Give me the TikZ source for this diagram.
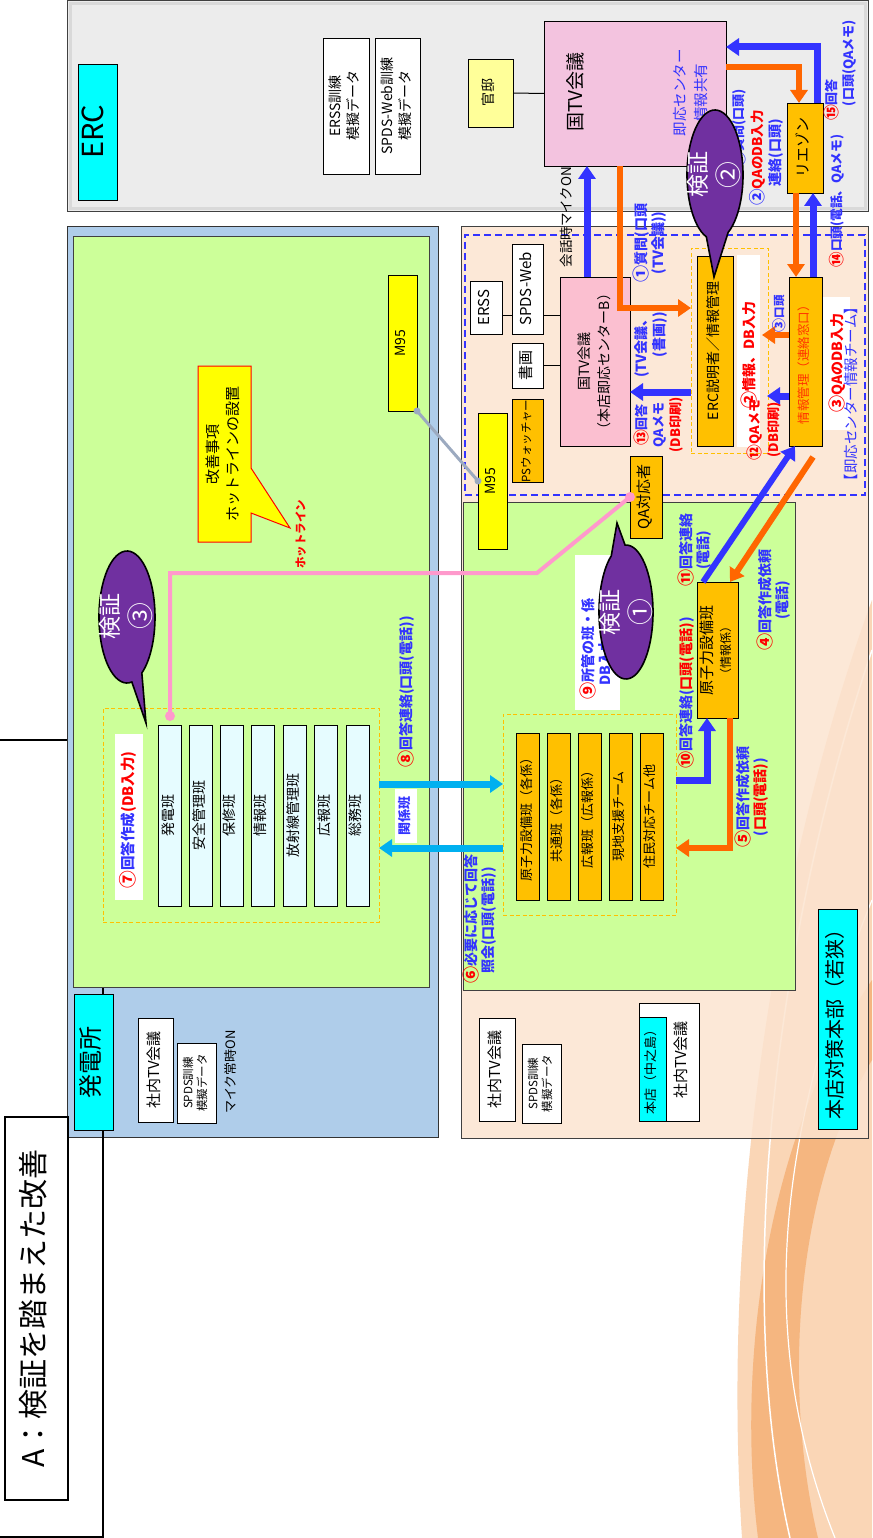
\documentclass[tikz,border=0pt]{standalone}
\usepackage{fontspec}
\setmainfont{Noto Sans CJK JP}
\usepackage{graphicx}
\usetikzlibrary{arrows.meta,calc}
\definecolor{bluL}{HTML}{3333FF}
\definecolor{oraA}{HTML}{FF6600}
\definecolor{boxO}{HTML}{FFC000}
\definecolor{yelB}{HTML}{FFFF00}
\definecolor{yelL}{HTML}{FFFF99}
\definecolor{pinkE}{HTML}{F3C3DF}
\definecolor{pinkB}{HTML}{FBBFD0}
\definecolor{greenA}{HTML}{CCFF99}
\definecolor{blueP}{HTML}{AFCDEA}
\definecolor{peach}{HTML}{FCE4D0}
\definecolor{cyanL}{HTML}{E6FCFF}
\definecolor{cyanB}{HTML}{00FFFF}
\definecolor{skyA}{HTML}{00B0F0}
\definecolor{purp}{HTML}{7030A0}
\definecolor{grayE}{HTML}{ECECEC}
\definecolor{grayLine}{HTML}{9CAAC0}
\definecolor{pinkLine}{HTML}{FF99CC}
\definecolor{redO}{HTML}{FF3300}
\definecolor{decoA}{HTML}{FAD6B6}
\definecolor{decoB}{HTML}{F5B680}
\newcommand{\vtxt}[2][c]{\rotatebox{90}{\begin{tabular}{@{}#1@{}}#2\end{tabular}}}
\newcommand{\fsz}[2]{\fontsize{#1}{#2}\selectfont}
\newcommand{\rd}[1]{\textcolor{red}{#1}}
\newcommand{\bl}[1]{\textcolor{bluL}{#1}}
\newcommand{\cn}[1]{\raisebox{-0.08em}{\scalebox{1.22}{#1}}}
\begin{document}
\begin{tikzpicture}[x=1pt,y=-1pt,
 bx/.style={draw=black, line width=0.8pt, inner sep=0pt, outer sep=0pt},
 lb/.style={inner sep=0pt, outer sep=0pt, font=\fsz{14}{17}\bfseries},
 area/.style={inner sep=0pt, outer sep=0pt},
 grp/.style={draw=boxO, line width=0.9pt, dash pattern=on 4pt off 2.5pt, inner sep=0pt, outer sep=0pt},
 barrow/.style={draw=bluL, line width=7pt, -{Triangle[length=13pt,width=17pt]}},
 oarrow/.style={draw=oraA, line width=6.5pt, -{Triangle[length=13pt,width=17pt]}},
 carrow/.style={draw=skyA, line width=7pt, -{Triangle[length=13pt,width=17pt]}},
 conn/.style={draw=black, line width=1pt},
 vbub/.style={fill=purp, draw=black, line width=1.6pt},
 vtext/.style={text=white, inner sep=0pt, font=\fsz{23}{29}},
]
\useasboundingbox (0,0) rectangle (872,1538);
\fill[white] (0,0) rectangle (872,1538);
% background decoration
\fill[decoA] (872,600) .. controls (780,850) and (720,1200) .. (742,1538) -- (872,1538) -- cycle;
\fill[decoB] (872,980) .. controls (770,1130) and (735,1350) .. (758,1538) -- (818,1538) .. controls (785,1400) and (790,1200) .. (872,1060) -- cycle;
\draw[white, line width=1.5pt] (872,650) .. controls (770,950) and (735,1300) .. (790,1538);
\draw[white, line width=1.2pt] (872,900) .. controls (770,1150) and (760,1350) .. (835,1538);
% frame
\draw[line width=1.2pt] (0,740) -- (68,740);
% areas
\node[area, draw=black!75, fill=grayE, line width=1pt, minimum width=801pt, minimum height=211pt] (ercArea) at (467.5,106.5) {};
\draw[black!15, line width=3pt] (70,4) rectangle (865,209);
\node[area, draw=black!75, fill=peach, fill opacity=0.85, line width=1pt, minimum width=407pt, minimum height=911pt] (hqArea) at (664.5,682.5) {};
\node[area, draw=black!80, fill=blueP, line width=1pt, minimum width=371pt, minimum height=910pt] (plArea) at (252.5,682) {};
\draw[line width=1.5pt] (103,740) -- (103,1537) -- (0,1537);
\node[area, draw=black!75, fill=greenA, line width=1pt, minimum width=356pt, minimum height=750pt] (plGreen) at (251,612) {};
\node[area, draw=black!75, fill=greenA, line width=1pt, minimum width=332pt, minimum height=488pt] (hqGreen) at (629,746) {};
\node[area, draw=bluL, line width=1.8pt, dash pattern=on 7pt off 4pt, minimum width=400pt, minimum height=260pt] (teamgrp) at (665,365) {};
\node[grp, minimum width=77pt, minimum height=205pt] (ercgrp) at (729.5,350.5) {};
\node[grp, minimum width=173pt, minimum height=201pt] (hqgrp) at (589.5,814.5) {};
\node[grp, minimum width=276pt, minimum height=214pt] (plgrp) at (241,815) {};
% ERC boxes
\node[bx, fill=cyanB, minimum width=39pt, minimum height=136pt, font=\fsz{29}{30}] (ercLabel) at (97.5,132) {\vtxt{ERC}};
\node[bx, fill=white, minimum width=46pt, minimum height=136pt, font=\fsz{14}{18}] (erssT) at (346,106) {\vtxt{ERSS訓練\\模擬データ}};
\node[bx, fill=white, minimum width=45pt, minimum height=136pt, font=\fsz{14}{18}] (spdsT) at (397.5,106) {\vtxt{SPDS-Web訓練\\模擬データ}};
\node[bx, fill=yelL, minimum width=45pt, minimum height=68pt, font=\fsz{14}{17}] (kantei) at (490.5,93) {\vtxt{官邸}};
\node[bx, fill=pinkE, minimum width=182pt, minimum height=145pt] (tvE) at (635,93.5) {};
\node[inner sep=0pt, font=\fsz{19}{22}] (tvEt) at (578,92) {\vtxt{国TV会議}};
\node[inner sep=0pt, font=\fsz{14.5}{21}, text=bluL] (share) at (692,93) {\vtxt[l]{即応センター\\の情報共有}};
\node[bx, fill=boxO, minimum width=36pt, minimum height=90pt, font=\fsz{15}{18}] (liaison) at (805,148) {\vtxt{リエゾン}};
% HQ boxes
\node[bx, fill=pinkB, minimum width=70pt, minimum height=169pt, font=\fsz{14}{20}] (tvB) at (595,361.5) {\vtxt{国TV会議\\（本店即応センターB）}};
\node[bx, fill=white, minimum width=32pt, minimum height=53pt, font=\fsz{15}{18}] (erssB) at (486,307.5) {\vtxt{ERSS}};
\node[bx, fill=white, minimum width=31pt, minimum height=90pt, font=\fsz{15}{18}] (spdsB) at (527.5,289) {\vtxt{SPDS-Web}};
\node[bx, fill=white, minimum width=31pt, minimum height=45pt, font=\fsz{15}{18}] (shoga) at (527.5,365.5) {\vtxt{書画}};
\node[bx, fill=boxO, minimum width=31pt, minimum height=82pt, font=\fsz{11.5}{14}] (psw) at (527.5,441) {\vtxt{PSウォッチャー}};
\node[bx, fill=yelB, minimum width=29pt, minimum height=136pt, font=\fsz{14}{16}] (m95h) at (492.5,481) {\vtxt{M95}};
\node[bx, fill=boxO, minimum width=32pt, minimum height=82pt, font=\fsz{15}{18}] (qa) at (646,497) {\vtxt{QA対応者}};
\node[bx, fill=boxO, minimum width=36pt, minimum height=190pt, font=\fsz{14}{17}] (ercx) at (715,351) {\vtxt{ERC説明者／情報管理}};
\node[bx, fill=boxO, minimum width=33pt, minimum height=169pt, font=\fsz{12.5}{15}, text=redO] (jkan) at (805.5,361.5) {\vtxt{情報管理（連絡窓口）}};
\node[bx, fill=boxO, minimum width=41pt, minimum height=136pt, font=\fsz{15}{18}] (gen) at (717.5,650) {\vtxt{原子力設備班\\{\fsz{12}{14}（情報係）}}};
\node[bx, fill=boxO, minimum width=23pt, minimum height=167pt, font=\fsz{13}{15}] (hq1) at (528,816.5) {\vtxt{原子力設備班（各係）}};
\node[bx, fill=boxO, minimum width=23pt, minimum height=167pt, font=\fsz{13}{15}] (hq2) at (558.5,816.5) {\vtxt{共通班（各係）}};
\node[bx, fill=boxO, minimum width=23pt, minimum height=167pt, font=\fsz{13}{15}] (hq3) at (589.5,816.5) {\vtxt{広報班（広報係）}};
\node[bx, fill=boxO, minimum width=23pt, minimum height=167pt, font=\fsz{13}{15}] (hq4) at (620.5,816.5) {\vtxt{現地支援チーム}};
\node[bx, fill=boxO, minimum width=23pt, minimum height=167pt, font=\fsz{13}{15}] (hq5) at (651.5,816.5) {\vtxt{住民対応チーム他}};
% plant boxes
\node[bx, fill=yelB, minimum width=29pt, minimum height=136pt, font=\fsz{14}{16}] (m95p) at (402.5,343) {\vtxt{M95}};
\node[bx, fill=cyanL, minimum width=23pt, minimum height=181pt, font=\fsz{14}{16}] (p1) at (170,815.5) {\vtxt{発電班}};
\node[bx, fill=cyanL, minimum width=23pt, minimum height=181pt, font=\fsz{14}{16}] (p2) at (201,815.5) {\vtxt{安全管理班}};
\node[bx, fill=cyanL, minimum width=23pt, minimum height=181pt, font=\fsz{14}{16}] (p3) at (231.5,815.5) {\vtxt{保修班}};
\node[bx, fill=cyanL, minimum width=23pt, minimum height=181pt, font=\fsz{14}{16}] (p4) at (262.5,815.5) {\vtxt{情報班}};
\node[bx, fill=cyanL, minimum width=23pt, minimum height=181pt, font=\fsz{14}{16}] (p5) at (294.5,815.5) {\vtxt{放射線管理班}};
\node[bx, fill=cyanL, minimum width=23pt, minimum height=181pt, font=\fsz{14}{16}] (p6) at (326,815.5) {\vtxt{広報班}};
\node[bx, fill=cyanL, minimum width=23pt, minimum height=181pt, font=\fsz{14}{16}] (p7) at (357.5,815.5) {\vtxt{総務班}};
\filldraw[fill=yelB, draw=red, line width=1pt] (198,366) -- (251,366) -- (251,468) -- (290,528) -- (251,513) -- (251,542) -- (198,542) -- cycle;
\node[inner sep=0pt, font=\fsz{15}{20}] (kaizen) at (224.5,454) {\vtxt{改善事項\\ホットラインの設置}};
\node[inner sep=0pt, font=\fsz{11.5}{14}\bfseries, text=red] (hotl) at (302,534) {\vtxt{ホットライン}};
\node[bx, fill=cyanB, minimum width=39pt, minimum height=136pt, font=\fsz{24}{26}] (hatsu) at (93.5,1062) {\vtxt{発電所}};
\node[bx, fill=white, minimum width=35pt, minimum height=104pt, font=\fsz{15}{18}] (shanaiP) at (155.5,1070) {\vtxt{社内TV会議}};
\node[bx, fill=white, minimum width=39pt, minimum height=80pt, font=\fsz{11.5}{14}] (spdsP) at (196.5,1083) {\vtxt{SPDS訓練\\模擬データ}};
\node[inner sep=0pt, font=\fsz{13}{16}] (micon) at (232,1072) {\vtxt{マイク常時ON}};
\node[bx, fill=white, minimum width=36pt, minimum height=103pt, font=\fsz{15}{18}] (shanaiH) at (497,1069.5) {\vtxt{社内TV会議}};
\node[bx, fill=white, minimum width=39pt, minimum height=79pt, font=\fsz{11.5}{14}] (spdsH) at (541.5,1083.5) {\vtxt{SPDS訓練\\模擬データ}};
\node[bx, fill=white, minimum width=60pt, minimum height=118pt] (tvNaka) at (669,1062) {};
\node[inner sep=0pt, font=\fsz{15}{18}] (tvNakaT) at (683,1060) {\vtxt{社内TV会議}};
\node[bx, fill=cyanB, minimum width=27pt, minimum height=104pt, font=\fsz{13}{15}] (honten) at (652.5,1069) {\vtxt{本店（中之島）}};
\node[bx, fill=cyanB, minimum width=39pt, minimum height=220pt, font=\fsz{20}{23}] (taisaku) at (837.5,1019) {\vtxt{本店対策本部（若狭）}};
\node[bx, line width=1.5pt, fill=white, minimum width=63pt, minimum height=383pt, font=\fsz{30}{34}] (title) at (36.5,1308.5) {\vtxt{A：検証を踏まえた改善}};
% thin connectors
\draw[conn] (kantei.east) -- (tvE.west);
\draw[conn] ([yshift=-7.5pt]erssB.east) -- ([yshift=-26pt]spdsB.west);
\draw[conn] ([yshift=-26pt]spdsB.east) -- ([yshift=46.5pt]tvB.west);
\draw[conn] (shoga.east) -- ([yshift=-4pt]tvB.west);
\draw[grayLine, line width=3pt] (m95p.south east) -- (m95h.west);
\fill[grayLine] (m95p.south east) circle (3.5pt);
\fill[grayLine] (m95h.west) circle (3.5pt);
\coordinate (hotEnd) at ([yshift=9pt]p1.north);
\draw[pinkLine, line width=4pt] (qa.west) -- (537,573) -| (hotEnd);
\fill[pinkLine] (qa.west) circle (5pt);
\fill[pinkLine] (hotEnd) circle (5pt);
% arrows
\draw[barrow] ([xshift=12pt]liaison.north) |- ([yshift=46.5pt]tvE.east);
\draw[oarrow] ([yshift=26.5pt]tvE.east) -| ([xshift=-6pt]liaison.north);
\draw[oarrow] ([xshift=-9pt]liaison.south) -- ([xshift=-9.5pt]jkan.north);
\draw[barrow] ([xshift=7.5pt]jkan.north) -- ([xshift=8pt]liaison.south);
\draw[barrow] ([xshift=-8pt]tvB.north) -- ([xshift=-48pt]tvE.south);
\draw[oarrow] ([xshift=-15pt]tvE.south) |- ([yshift=42.5pt]ercgrp.west);
\draw[oarrow] ([yshift=26.5pt]jkan.west) -- ([shift={(-6pt,15.5pt)}]ercgrp.east);
\draw[barrow] ([yshift=-34.5pt]jkan.west) -- ([shift={(-1pt,-45.5pt)}]ercgrp.east);
\draw[barrow] ([yshift=-41.5pt]ercgrp.west) -- ([yshift=-30.5pt]tvB.east);
\draw[barrow, line width=6pt] ([xshift=-14.5pt]gen.north) -- ([xshift=-10.5pt]jkan.south);
\draw[oarrow, line width=6pt] ([shift={(7.5pt,-11pt)}]jkan.south) -- ([xshift=12.5pt]gen.north);
\draw[barrow] ([yshift=34.5pt]hqgrp.east) -| ([xshift=-10.5pt]gen.south);
\draw[oarrow] ([xshift=12.5pt]gen.south) |- ([yshift=-33.5pt]hqgrp.east);
\draw[carrow] ([yshift=31pt]plgrp.east) -- ([yshift=30.5pt]hqgrp.west);
\draw[carrow] ([yshift=-33.5pt]hqgrp.west) -- ([yshift=-33pt]plgrp.east);
% white label backgrounds
\fill[white] (737,255) rectangle (760,447);
\fill[white] (823,297) rectangle (850,430);
\fill[white] (575,555) rectangle (620,710);
\fill[white] (115,734) rectangle (143,900);
\fill[white] (395,789) rectangle (417,843);
% labels
\node[inner sep=0pt, font=\fsz{13.5}{16}] (lmic) at (568,217) {\vtxt{会話時マイクON}};
\node[lb, font=\fsz{13}{16}\bfseries] (l15a) at (833,100) {\vtxt{\rd{\cn{⑮}}\bl{回答}}};
\node[lb, font=\fsz{13}{16}\bfseries, text=bluL] (l15b) at (850,63) {\vtxt{(口頭(QAメモ)}};
\node[lb, font=\fsz{13.5}{16}\bfseries] (l2q) at (758,158) {\vtxt{\bl{\cn{②}}\rd{QAのDB入力}}};
\node[lb, text=bluL] (l2r) at (777,153) {\vtxt{連絡(口頭)}};
\node[lb, font=\fsz{13}{16}\bfseries, text=bluL] (l1a) at (740,128) {\vtxt{\cn{①}質問(口頭)}};
\node[lb, text=bluL] (l1b) at (651,243) {\vtxt{\cn{①}質問(口頭\\(TV会議))}};
\node[lb, text=bluL] (l13b) at (652,345) {\vtxt[r]{(TV会議、\\(書画))}};
\node[lb, font=\fsz{13}{17}\bfseries] (l13a) at (660,425) {\vtxt{\rd{\cn{⑬}}\bl{回答}\\\bl{QAメモ}\\\rd{(DB印刷)}}};
\node[lb, text=red] (l2i) at (750,355) {\vtxt{\cn{②}情報、DB入力}};
\node[lb, font=\fsz{13}{19}\bfseries, text=red] (l12) at (765,430) {\vtxt{\cn{⑫}QAメモ\\(DB印刷)}};
\node[lb, font=\fsz{11.5}{14}\bfseries, text=bluL] (l3k) at (780,314) {\vtxt{\cn{③}口頭}};
\node[lb, text=red] (l3q) at (838,363) {\vtxt{\cn{③}QAのDB入力}};
\node[lb, font=\fsz{12.7}{15}\bfseries] (l14) at (838,201) {\vtxt{\rd{\cn{⑭}}\bl{口頭(電話、QAメモ)}}};
\node[inner sep=0pt, font=\fsz{14.5}{17}, text=bluL] (lteam) at (853,394) {\vtxt{【即応センター情報チーム】}};
\node[lb] (l11) at (696,550) {\vtxt{\rd{\cn{⑪}}\bl{回答連絡}\\\bl{(電話)}}};
\node[lb] (l4) at (775,600) {\vtxt{\rd{\cn{④}}\bl{回答作成依頼}\\\bl{(電話)}}};
\node[lb] (l10) at (687,693) {\vtxt{\rd{\cn{⑩}}\bl{回答連絡(}\rd{口頭(電話)}\bl{)}}};
\node[lb] (l5) at (753,797) {\vtxt{\rd{\cn{⑤}}\bl{回答作成依頼}\\\bl{(}\rd{口頭(電話)}\bl{)}}};
\node[lb] (l9) at (598,649) {\vtxt[l]{\rd{\cn{⑨}}\bl{所管の班・係}\\\hspace{1em}\bl{DB入力}}};
\node[lb, font=\fsz{14.5}{17}\bfseries] (l7) at (129,820) {\vtxt{\rd{\cn{⑦}}\bl{回答作成}\rd{(DB入力)}}};
\node[lb] (l8) at (407,692) {\vtxt{\rd{\cn{⑧}}\bl{回答連絡(口頭(電話))}}};
\node[lb, font=\fsz{13}{16}\bfseries, text=bluL] (lkan) at (406,816) {\vtxt{関係班}};
\node[lb] (l6) at (481,919) {\vtxt[l]{\rd{\cn{⑥}}\bl{必要に応じて回答}\\\hspace{0.7em}\bl{照会(口頭(電話))}}};
% verification bubbles
\filldraw[vbub] ($(715,175)+(108:28 and 65)$) arc[start angle=108, end angle=422, x radius=28, y radius=65] -- (714,277) -- cycle;
\node[vtext] (v2) at (716,175) {\vtxt{検証\\{\fsz{22}{25}\cn{②}}}};
\filldraw[vbub] ($(626,612)+(268:27 and 67)$) arc[start angle=268, end angle=597, x radius=27, y radius=67] -- (617,523) -- cycle;
\node[vtext] (v1) at (628,612) {\vtxt{検証\\{\fsz{22}{25}\cn{①}}}};
\filldraw[vbub] ($(127,617)+(80:28 and 66)$) arc[start angle=80, end angle=418, x radius=28, y radius=66] -- (146,723) -- cycle;
\node[vtext] (v3) at (128,616) {\vtxt{検証\\{\fsz{22}{25}\cn{③}}}};
\end{tikzpicture}
\end{document}
